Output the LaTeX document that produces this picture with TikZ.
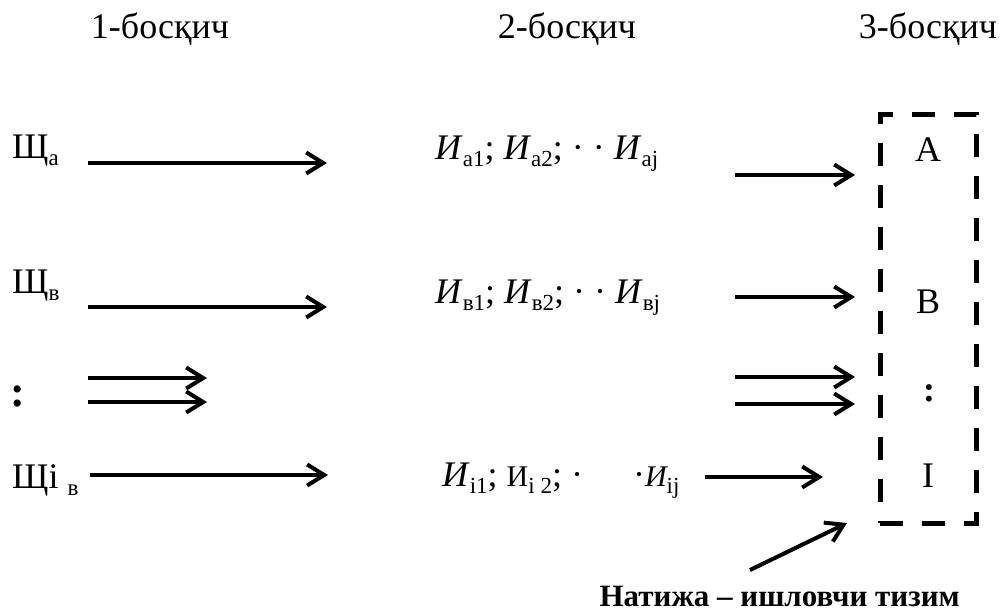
\documentclass[tikz,border=0pt]{standalone}
\usepackage{fontspec}
\setmainfont{Liberation Serif}
\usepackage{tikz}
\usetikzlibrary{positioning,arrows.meta}

\newcommand{\bigtxt}{\fontsize{36}{40}\selectfont}
\newcommand{\lowsub}[1]{\raisebox{-0.2em}{\fontsize{23}{23}\selectfont #1}}

\begin{document}
\begin{tikzpicture}[x=1pt, y=-1pt, >={Straight Barb[length=17pt,width=21pt]},
    lbl/.style={font=\bigtxt, inner sep=0pt},
    arr/.style={->, line width=4pt}]
  \useasboundingbox (0,0) rectangle (1002,614);
  % stage titles
  \node[lbl, anchor=base] (st1) at (160,38) {1-босқич};
  \node[lbl, anchor=base] (st2) at (567,38) {2-босқич};
  \node[lbl, anchor=base] (st3) at (928,38) {3-босқич};
  % left column
  \node[lbl, anchor=base west] (ca) at (12,158) {Щ\lowsub{а}};
  \node[lbl, anchor=base west] (cb) at (12,293) {Щ\lowsub{в}};
  \node[lbl, anchor=base west, font=\fontsize{44}{44}\selectfont\bfseries] (cdots) at (10,406) {:};
  \node[lbl, anchor=base west] (ci) at (12,488) {Щi \lowsub{в}};
  \draw[arr] (88,163) -- (327,163);
  \draw[arr] (88,307) -- (327,307);
  \draw[arr] (88,378) -- (207,378);
  \draw[arr] (88,402) -- (207,402);
  \draw[arr] (90,475) -- (328,475);
  % middle column
  \node[lbl, anchor=base west] (ia) at (435,159)
    {\textit{И}\lowsub{а1}; \textit{И}\lowsub{а2}; · · \textit{И}\lowsub{аj}};
  \node[lbl, anchor=base west] (ib) at (435,303)
    {\textit{И}\lowsub{в1}; \textit{И}\lowsub{в2}; · · \textit{И}\lowsub{вj}};
  \node[lbl, anchor=base west] (ii) at (442,486)
    {\textit{И}\lowsub{i1}; {\fontsize{30}{30}\selectfont И}\lowsub{i 2}; ·\hspace{50pt}·{\fontsize{30}{30}\selectfont\itshape И}\lowsub{ij}};
  \draw[arr] (735,175) -- (855,175);
  \draw[arr] (735,297) -- (855,297);
  \draw[arr] (735,377) -- (855,377);
  \draw[arr] (735,404) -- (855,404);
  \draw[arr] (705,477) -- (823,477);
  % result block
  \node[draw, line width=5pt, dash pattern=on 23pt off 19pt, minimum width=96pt,
    minimum height=409pt, inner sep=0pt] (res) at (928,318.5) {};
  \node[lbl, anchor=base] (ra) at (928,161) {A};
  \node[lbl, anchor=base] (rb) at (928,313) {B};
  \node[lbl, anchor=base, font=\bigtxt\bfseries] (rdots) at (929,401) {:};
  \node[lbl, anchor=base] (ri) at (928,487) {I};
  \node[lbl, anchor=base east, font=\fontsize{31}{34}\selectfont\bfseries] (cap) at (960,606)
    {Натижа – ишловчи тизим};
  \draw[arr] (750,570) -- (847,523);
\end{tikzpicture}
\end{document}
